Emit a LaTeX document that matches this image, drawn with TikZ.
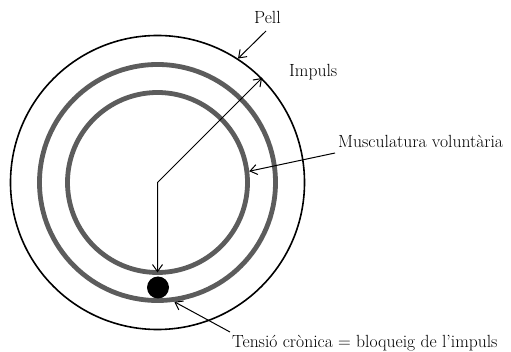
\documentclass[tikz,border=0pt]{standalone}
\usepackage{fontspec}
\usetikzlibrary{arrows.meta}
\definecolor{ring}{RGB}{92,92,92}
\begin{document}
\begin{tikzpicture}[x=1pt,y=-1pt,
  lbl/.style={inner sep=0pt,anchor=base west,font=\fontsize{17.6}{19}\selectfont},
  skin/.style={circle,draw=black,line width=1.6pt,inner sep=0pt},
  muscle/.style={circle,draw=ring,line width=4.8pt,inner sep=0pt},
  tip/.style={Straight Barb[length=7pt,width=10pt,line width=1pt]},
  conn/.style={line width=1pt,-{Straight Barb[length=7pt,width=10pt,line width=1pt]}}]
\useasboundingbox (0,0) rectangle (511,352);
\coordinate (c) at (157.5,182.5);
\node[skin,minimum size=294pt] (outer) at (c) {};
\node[muscle,minimum size=236pt] (mid) at (c) {};
\node[muscle,minimum size=180pt] (inner) at (c) {};
\node[circle,fill=black,inner sep=0pt,minimum size=22pt] (dot) at (158,287.5) {};
% labels
\node[lbl] (pell) at (254,24) {Pell};
\node[lbl] (impuls) at (289,77) {Impuls};
\node[lbl] (musc) at (338,148) {Musculatura voluntària};
\node[lbl] (tens) at (232,347) {Tensió crònica = bloqueig de l’impuls};
% connector ends
\coordinate (pellstart) at (266,31);
\coordinate (muscstart) at (335,153);
\coordinate (tensstart) at (230,332);
\coordinate (imptip) at ([yshift=2.5pt]inner.south);
\draw[conn] (pellstart) -- (outer.57);
\draw[conn] (muscstart) -- (inner.7);
\draw[conn] (tensstart) -- (mid.-82);
\draw[line width=1pt,{Straight Barb[length=7pt,width=10pt,line width=1pt]}-{Straight Barb[length=7pt,width=10pt,line width=1pt]}]
  (outer.45) -- (c) -- (imptip);
\end{tikzpicture}
\end{document}
